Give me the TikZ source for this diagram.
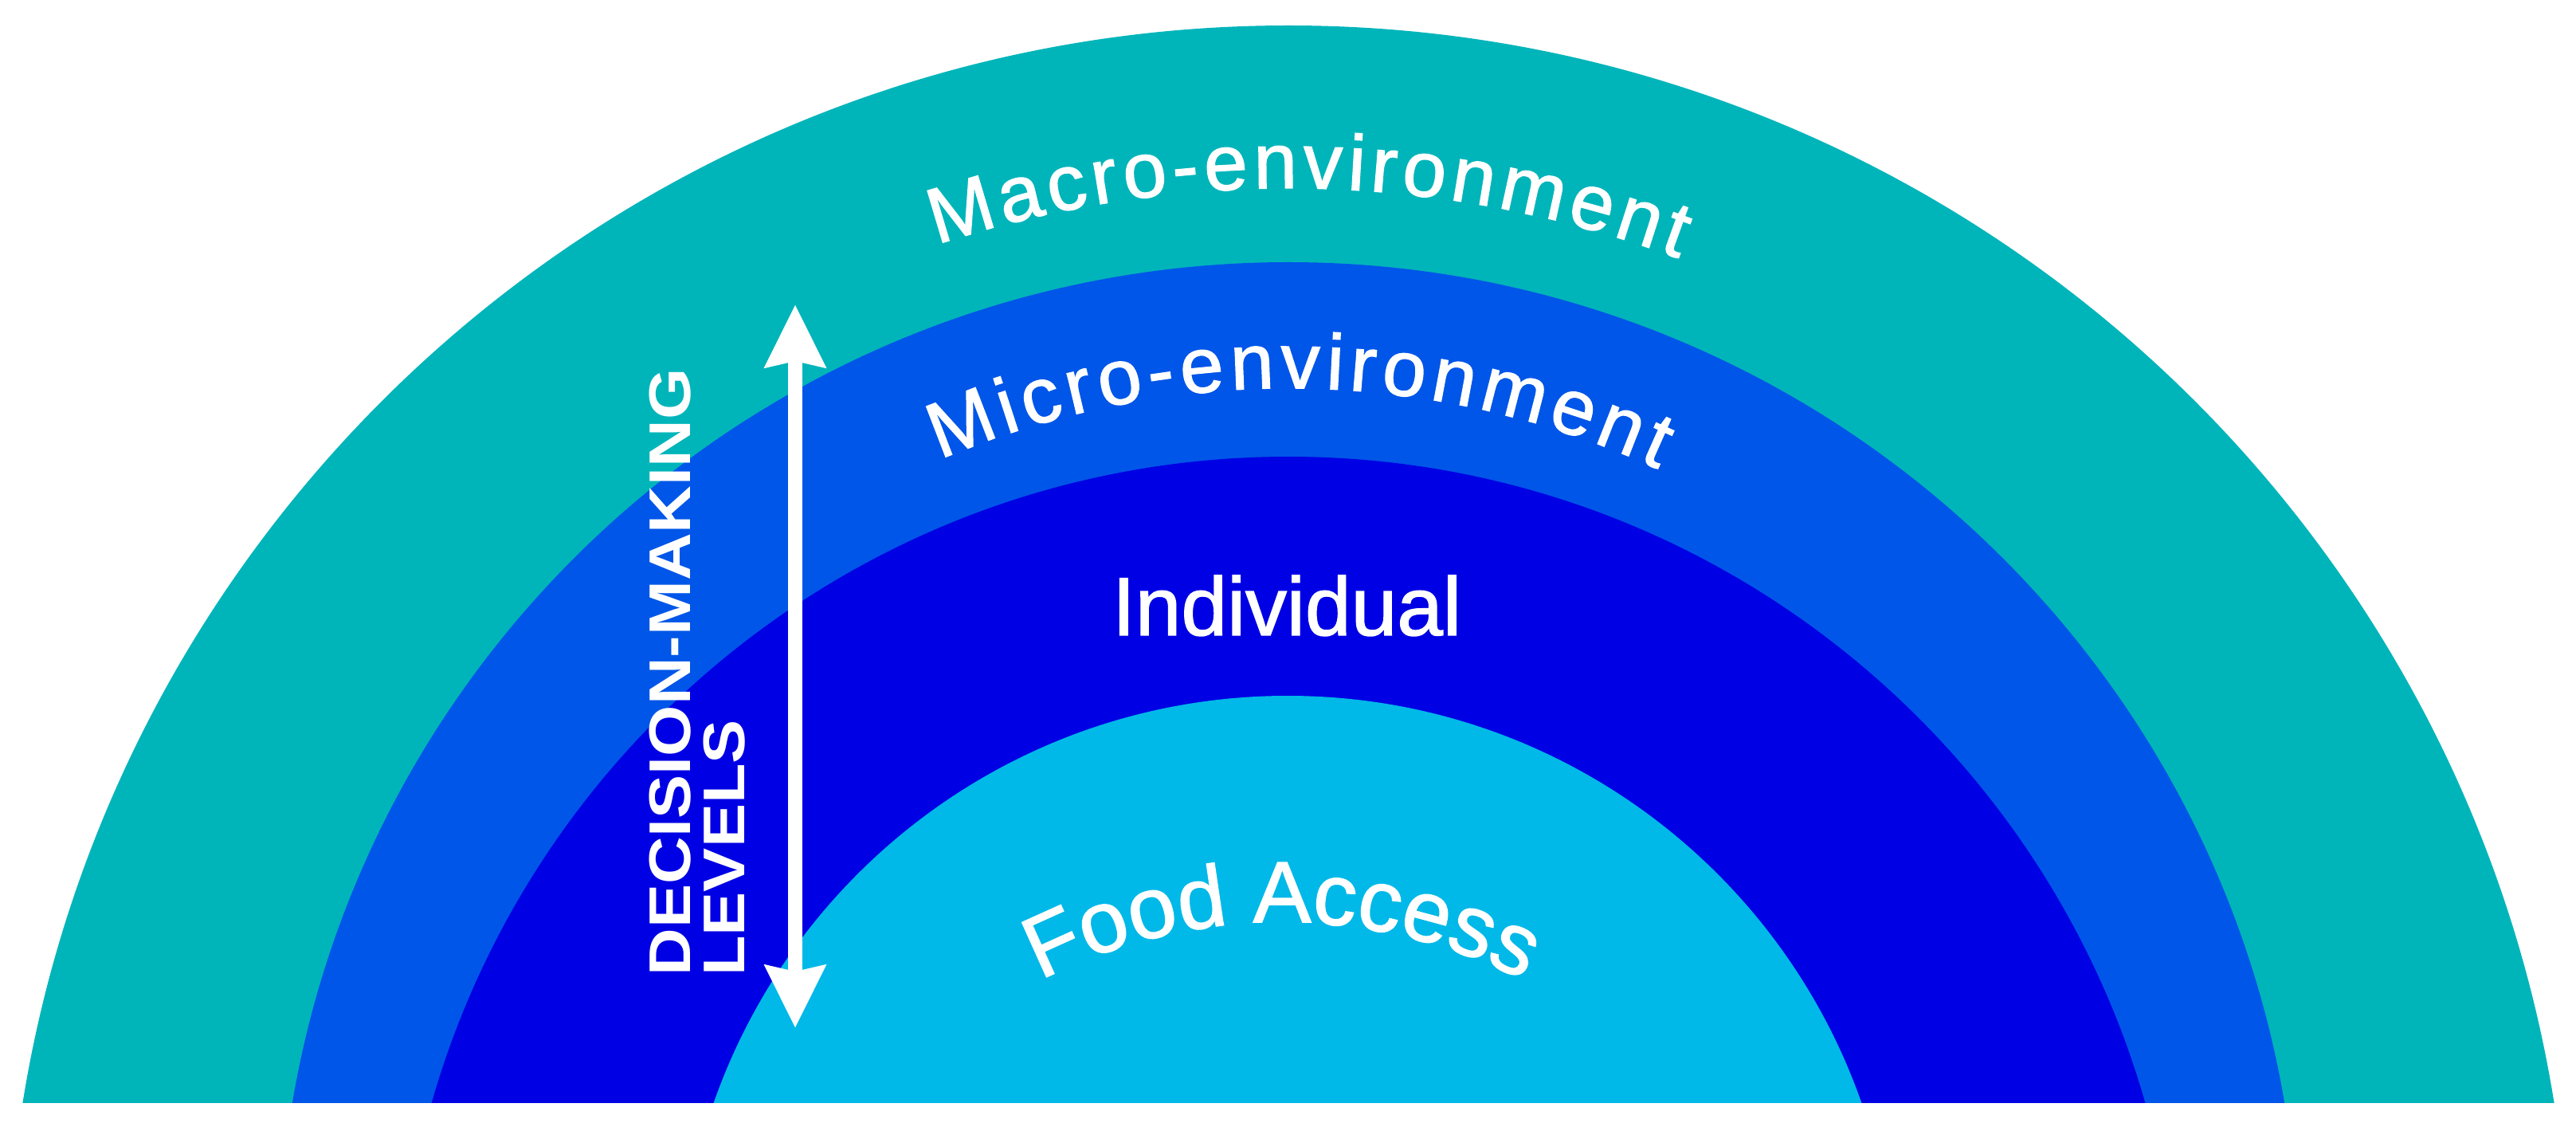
\documentclass[tikz,border=0pt]{standalone}
\usepackage{fontspec}
\usepackage{graphicx}
\newfontfamily\arialf{Liberation Sans}
\newfontfamily\arialm[FakeBold=1.4]{Liberation Sans}
\usetikzlibrary{decorations.text, arrows.meta}
\definecolor{macroC}{RGB}{0,181,186}
\definecolor{microC}{RGB}{0,86,232}
\definecolor{indivC}{RGB}{0,0,228}
\definecolor{foodC}{RGB}{0,185,232}
\tikzset{
  ringfill/.style={fill=#1},
  labeltext/.style={text=white, inner sep=0pt},
  levelarrow/.style={white, line width=5.1pt,
    {Stealth[length=0.78cm,width=0.74cm,inset=0.07cm]}-{Stealth[length=0.78cm,width=0.74cm,inset=0.07cm]}}
}
\begin{document}
\begin{tikzpicture}
\useasboundingbox (0,0) rectangle (32.33,14.08);
\fill[white] (0,0) rectangle (32.33,14.08);
\coordinate (cMac) at (16.17,-2.33);
\coordinate (cMic) at (16.17,-1.89);
\coordinate (cInd) at (16.17,-2.83);
\coordinate (cFood) at (16.16,-2.28);
\coordinate (cFoodTxt) at (16.09,-4.14);
\begin{scope}
  \clip (0,0.25) rectangle (32.33,14.08);
  \fill[ringfill=macroC] (cMac) circle (16.09);
  \fill[ringfill=microC] (cMic) circle (12.68);
  \fill[ringfill=indivC] (cInd) circle (11.18);
  \fill[ringfill=foodC] (cFood) circle (7.63);
\end{scope}
% curved labels
\path[decorate, decoration={text along path, text align={fit to path},
  text={|\arialm\fontsize{28}{28}\selectfont\color{white}|Macro-environment}}]
  ([shift={(108.3:14.05)}]cMac) arc[start angle=108.3, end angle=69.6, radius=14.05];
\path[decorate, decoration={text along path, text align={fit to path},
  text={|\arialm\fontsize{28}{28}\selectfont\color{white}|Micro-environment}}]
  ([shift={(113.2:11.10)}]cMic) arc[start angle=113.2, end angle=65.3, radius=11.10];
\path[decorate, decoration={text along path, text align=center,
  text={|\arialm\fontsize{31}{31}\selectfont\color{white}|Food Access}}]
  ([shift={(125:6.65)}]cFoodTxt) arc[start angle=125, end angle=55, radius=6.65];
% straight label
\node[labeltext, font=\arialm\fontsize{29.5}{29.5}\selectfont, anchor=base] (indiv) at (16.15,6.11) {Individual};
% decision-making levels
\node[labeltext, rotate=90, align=left, font=\arialf\bfseries\fontsize{21}{19.4}\selectfont] (dec) at (8.75,5.645) {\scalebox{1.12}[1]{DECISION-MAKING}\\\scalebox{1.12}[1]{LEVELS}};
\coordinate (atop) at (9.98,10.26);
\coordinate (abot) at (9.98,1.18);
\draw[levelarrow] (abot) -- (atop);
\end{tikzpicture}
\end{document}
